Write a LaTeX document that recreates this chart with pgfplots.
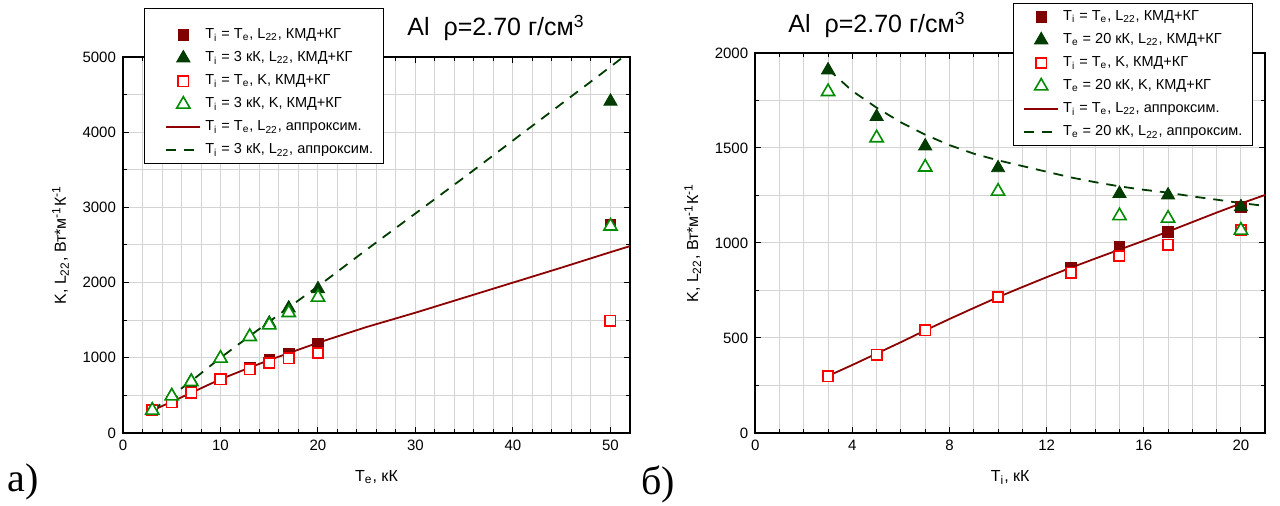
\documentclass[border=0pt]{standalone}
\usepackage{pgfplots}
\pgfplotsset{compat=1.18}
\usepackage{fontspec}
\setmainfont{Liberation Sans}
\newfontfamily\serifcyr{Liberation Serif}
\definecolor{fsq}{RGB}{128,0,0}
\definecolor{ftri}{RGB}{0,60,0}
\definecolor{osq}{RGB}{255,0,0}
\definecolor{otri}{RGB}{0,140,0}
\definecolor{sline}{RGB}{140,0,0}
\definecolor{dline}{RGB}{0,60,0}
\definecolor{gridc}{RGB}{212,212,212}
\pgfplotsset{
 common/.style={
   scale only axis,
   axis line style={line width=0.9pt},
   grid=both,
   major grid style={line width=0.5pt, draw=gridc},
   minor grid style={line width=0.5pt, draw=gridc},
   tick style={line width=0.5pt, black},
   major tick length=3pt, minor tick length=2pt,
   tick label style={font=\fontsize{7.5}{9}\selectfont},
   label style={font=\fontsize{8}{9.6}\selectfont},
   xlabel style={yshift=-3pt},
   /pgf/number format/assume math mode=true,
   /pgf/number format/1000 sep={},
   legend cell align=left,
   legend style={draw=black, line width=0.5pt, fill=white,
     font=\fontsize{7.25}{8.7}\selectfont, anchor=north west,
     row sep=1pt, inner xsep=3pt, inner ysep=1.5pt},
 },
 fsqs/.style={only marks, mark=square*, color=fsq, mark size=2.6pt},
 ftris/.style={only marks, mark=triangle*, color=ftri, mark size=3.8pt},
 osqs/.style={only marks, mark=square*, color=osq, mark size=2.6pt, mark options={fill=white, line width=0.8pt}},
 otris/.style={only marks, mark=triangle*, color=otri, mark size=3.8pt, mark options={fill=white, line width=0.8pt}},
 sl/.style={no marks, color=sline, line width=0.9pt},
 dl/.style={no marks, color=dline, line width=0.9pt, dash pattern=on 5pt off 4pt},
}
\begin{document}
\begin{tikzpicture}
\path[use as bounding box] (0,0) rectangle (640pt,253pt);
% ---------- left panel
\begin{axis}[common, at={(61.5pt,36.5pt)}, anchor=south west,
  width=253.5pt, height=188pt,
  xmin=0, xmax=52, ymin=0, ymax=5000,
  xtick={0,10,...,50}, minor x tick num=4,
  ytick={0,1000,...,5000}, minor y tick num=1,
  xlabel={T\textsubscript{e}, кК},
  ylabel={K, L\textsubscript{22}, Вт*м\textsuperscript{-1}К\textsuperscript{-1}},
  legend image code/.code={\path (-0.265cm,0cm); \draw[mark repeat=2,mark phase=2,#1] plot coordinates {(0cm,0cm) (0.3cm,0cm) (0.6cm,0cm)};},
  legend style={at={(0.041,1.130)}}]
\addlegendimage{empty legend}
\addlegendentry[text height=5.5pt, text depth=0pt, inner sep=0pt]{}
\addplot[sl, forget plot] coordinates {(3,300)(5,415)(7,535)(10,715)(13,870)(15,970)(17,1062)(20,1200)(25,1410)(30,1600)(35,1800)(40,2000)(45,2200)(50,2405)(52,2485)};
\addplot[dl, forget plot] coordinates {(3,300)(5,495)(7,690)(10,1000)(13,1290)(15,1480)(17,1670)(20,1950)(25,2440)(30,2920)(35,3400)(40,3890)(45,4380)(50,4870)(52,5070)};
\addplot[fsqs] coordinates {(3,300)(5,415)(7,545)(10,718)(13,875)(15,982)(17,1060)(20,1193)(50,2770)};
\addlegendentry{T\textsubscript{i} = T\textsubscript{e}, L\textsubscript{22}, КМД+КГ}
\addplot[ftris] coordinates {(3,306)(5,495)(7,690)(10,995)(13,1285)(15,1460)(17,1660)(20,1915)(50,4410)};
\addlegendentry{T\textsubscript{i} = 3 кК, L\textsubscript{22}, КМД+КГ}
\addplot[osqs] coordinates {(3,300)(5,408)(7,538)(10,715)(13,845)(15,930)(17,992)(20,1064)(50,1495)};
\addlegendentry{T\textsubscript{i} = T\textsubscript{e}, K, КМД+КГ}
\addplot[otris] coordinates {(3,300)(5,490)(7,682)(10,993)(13,1281)(15,1436)(17,1600)(20,1804)(50,2750)};
\addlegendentry{T\textsubscript{i} = 3 кК, K, КМД+КГ}
\addlegendimage{sl}
\addlegendentry{T\textsubscript{i} = T\textsubscript{e}, L\textsubscript{22}, аппроксим.}
\addlegendimage{dl}
\addlegendentry{T\textsubscript{i} = 3 кК, L\textsubscript{22}, аппроксим.}
\end{axis}
% ---------- right panel
\begin{axis}[common, at={(377.6pt,36.5pt)}, anchor=south west,
  width=255pt, height=190pt,
  xmin=0, xmax=21, ymin=0, ymax=2000,
  xtick={0,4,...,20}, minor x tick num=3,
  ytick={0,500,...,2000}, minor y tick num=1,
  xlabel={T\textsubscript{i}, кК},
  ylabel={K, L\textsubscript{22}, Вт*м\textsuperscript{-1}К\textsuperscript{-1}},
  legend image code/.code={\path (-0.07cm,0cm); \draw[mark repeat=2,mark phase=2,#1] plot coordinates {(0cm,0cm) (0.3cm,0cm) (0.6cm,0cm)};},
  legend style={at={(0.505,1.1316)}}]
\addplot[sl, forget plot] coordinates {(3,300)(4,358)(5,418)(6,478)(7,540)(8,600)(9,658)(10,715)(11,768)(12,820)(13,870)(14,918)(15,965)(16,1012)(17,1060)(18,1110)(19,1160)(20,1208)(21,1253)};
\addplot[dl, forget plot] coordinates {(3,1915)(4,1800)(5,1712)(6,1635)(7,1570)(8,1515)(9,1470)(10,1435)(11,1405)(12,1375)(13,1345)(14,1320)(15,1298)(16,1280)(17,1265)(18,1245)(19,1228)(20,1210)(21,1195)};
\addplot[fsqs] coordinates {(3,300)(5,415)(7,545)(10,718)(13,873)(15,979)(17,1058)(20,1190)};
\addlegendentry{T\textsubscript{i} = T\textsubscript{e}, L\textsubscript{22}, КМД+КГ}
\addplot[ftris] coordinates {(3,1910)(5,1665)(7,1510)(10,1395)(15,1260)(17,1252)(20,1190)};
\addlegendentry{T\textsubscript{e} = 20 кК, L\textsubscript{22}, КМД+КГ}
\addplot[osqs] coordinates {(3,298)(5,413)(7,540)(10,716)(13,843)(15,932)(17,990)(20,1068)};
\addlegendentry{T\textsubscript{i} = T\textsubscript{e}, K, КМД+КГ}
\addplot[otris] coordinates {(3,1796)(5,1553)(7,1399)(10,1272)(15,1143)(17,1130)(20,1067)};
\addlegendentry{T\textsubscript{e} = 20 кК, K, КМД+КГ}
\addlegendimage{sl}
\addlegendentry{T\textsubscript{i} = T\textsubscript{e}, L\textsubscript{22}, аппроксим.}
\addlegendimage{dl}
\addlegendentry{T\textsubscript{e} = 20 кК, L\textsubscript{22}, аппроксим.}
\end{axis}
% ---------- titles and panel letters
\node[font=\fontsize{12.5}{15}\selectfont] at (248pt,239pt) {Al\ \ ρ=2.70 г/см\textsuperscript{3}};
\node[font=\fontsize{12.5}{15}\selectfont] at (438.5pt,240.5pt) {Al\ \ ρ=2.70 г/см\textsuperscript{3}};
\node[font=\serifcyr\fontsize{20}{24}\selectfont] at (11.75pt,12pt) {а)};
\node[font=\serifcyr\fontsize{20}{24}\selectfont] at (329pt,11pt) {б)};
\end{tikzpicture}
\end{document}
